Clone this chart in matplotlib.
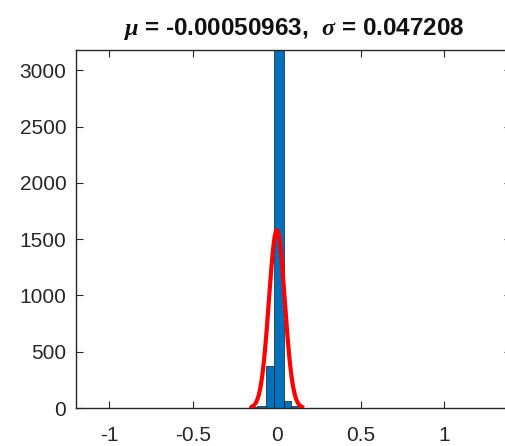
import numpy as np
import matplotlib
matplotlib.use("Agg")
import matplotlib.pyplot as plt

# Histogram data (bin edges and counts)
bin_edges = [-0.168, -0.118, -0.068, -0.015, 0.042, 0.082, 0.132, 0.182]
counts = [5, 20, 370, 3500, 60, 15, 3]

# Fitted normal parameters
mu = -0.00050963
sigma = 0.047208
fit_peak = 1580
fit_range = (-0.15, 0.15)

x_ticks = [-1, -0.5, 0, 0.5, 1]
x_tick_labels = ["-1", "-0.5", "0", "0.5", "1"]
y_ticks = [0, 500, 1000, 1500, 2000, 2500, 3000]

plt.rcParams['font.family'] = ['Liberation Sans', 'DejaVu Sans']
plt.rcParams['mathtext.fontset'] = 'custom'
plt.rcParams['mathtext.it'] = 'Liberation Serif:italic:bold'
plt.rcParams['mathtext.bf'] = 'Liberation Sans:bold'

fig = plt.figure(figsize=(5.05, 4.46), dpi=100)
ax = fig.add_axes([0.1505, 0.0852, 0.862, 0.8027])

edges = np.array(bin_edges)
ax.bar(edges[:-1], counts, width=np.diff(edges), align='edge',
       color='#0072BD', edgecolor='#1a1a1a', linewidth=0.5, zorder=2)

xs = np.linspace(fit_range[0], fit_range[1], 300)
ys = fit_peak * np.exp(-(xs - mu) ** 2 / (2 * sigma ** 2))
ax.plot(xs, ys, color='#FF0000', linewidth=3.0, zorder=3)

ax.set_xlim(-1.2, 1.4)
ax.set_ylim(0, 3180)
ax.set_xticks(x_ticks)
ax.set_xticklabels(x_tick_labels)
ax.set_yticks(y_ticks)

for s in ax.spines.values():
    s.set_color('#262626')
    s.set_linewidth(1.0)
ax.tick_params(direction='in', length=5, width=0.8, colors='#262626',
               labelsize=15, top=True, right=True, labelcolor='#262626')
ax.tick_params(axis='x', pad=13)
ax.tick_params(axis='y', pad=7)

ax.set_title(r'$\mathit{\mu}$ = -0.00050963,  $\mathit{\sigma}$ = 0.047208',
             fontsize=17.5, fontweight='bold', pad=11, color='#111111')

fig.savefig('out.png', dpi=100)
